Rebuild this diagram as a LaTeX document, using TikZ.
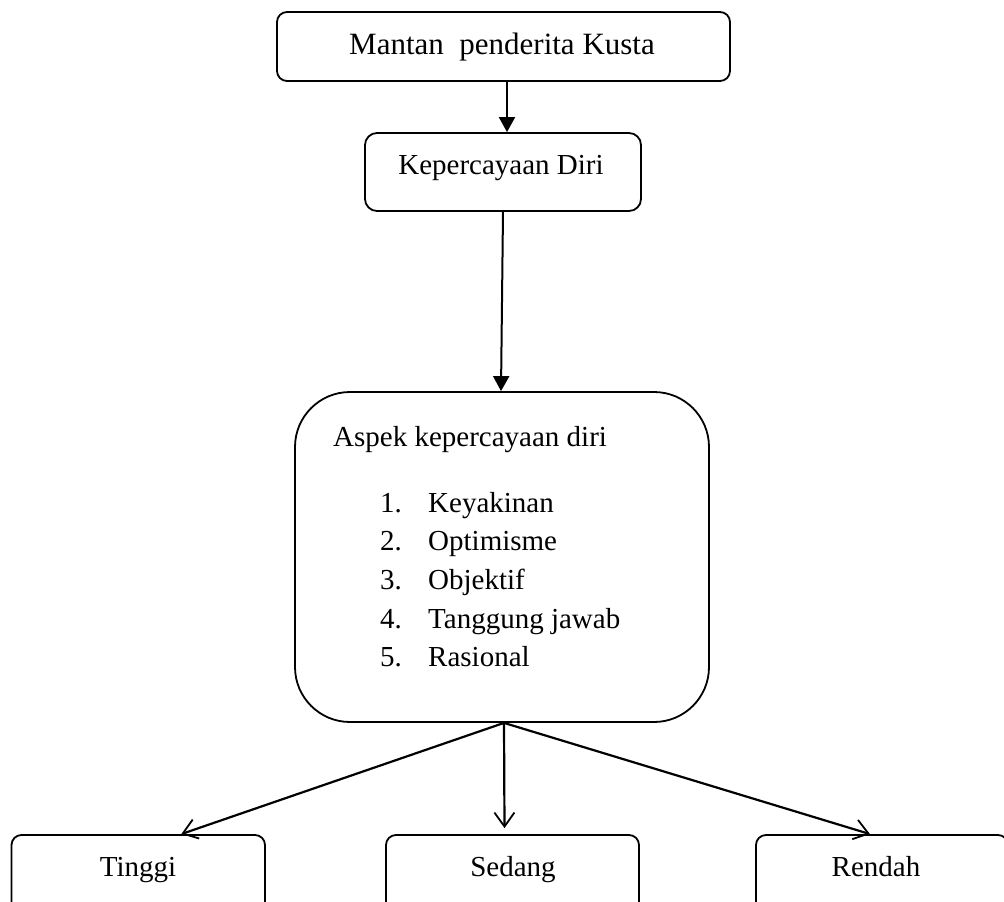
\documentclass[tikz,border=0pt]{standalone}
\usepackage{fontspec}
\setmainfont{Liberation Serif}
\usetikzlibrary{arrows.meta}
\tikzset{
  box/.style={draw, line width=1.8pt, rectangle, inner sep=0pt},
  txt/.style={anchor=base, inner sep=0pt, font=\fontsize{29}{34}\selectfont},
  ltxt/.style={anchor=base west, inner sep=0pt, font=\fontsize{29}{34}\selectfont},
  solidarrow/.style={line width=2pt, -{Triangle[length=15pt,width=16pt]}},
  openarrow/.style={line width=2.2pt, -{Straight Barb[length=14pt,width=20pt,line width=1.8pt]}}
}
\begin{document}
\begin{tikzpicture}[x=1pt,y=-1pt]
\useasboundingbox (0,0) rectangle (1004,902);
% boxes
\node[box, rounded corners=10pt, minimum width=453pt, minimum height=69pt] (m) at (503.5,46.5) {};
\node[box, rounded corners=12pt, minimum width=276pt, minimum height=78pt] (k) at (503,172) {};
\node[box, rounded corners=55pt, minimum width=414pt, minimum height=330pt] (a) at (502,557) {};
\node[box, rounded corners=10pt, minimum width=253.5pt, minimum height=77pt] (t) at (138.25,873.5) {};
\node[box, rounded corners=10pt, minimum width=253pt, minimum height=77pt] (s) at (512.5,873.5) {};
\node[box, rounded corners=10pt, minimum width=252pt, minimum height=77pt] (r) at (882,873.5) {};
% texts
\node[txt, font=\fontsize{31}{36}\selectfont] (mt) at (502,54) {Mantan\ \ penderita Kusta};
\node[txt] (kt) at (501,174) {Kepercayaan Diri};
\node[ltxt] (ah) at (333,446) {Aspek kepercayaan diri};
\node[ltxt] (a1) at (380,512) {\makebox[48pt][l]{1.}Keyakinan};
\node[ltxt] (a2) at (380,550.7) {\makebox[48pt][l]{2.}Optimisme};
\node[ltxt] (a3) at (380,589.4) {\makebox[48pt][l]{3.}Objektif};
\node[ltxt] (a4) at (380,628.1) {\makebox[48pt][l]{4.}Tanggung jawab};
\node[ltxt] (a5) at (380,666.8) {\makebox[48pt][l]{5.}Rasional};
\node[txt] (tt) at (138,876) {Tinggi};
\node[txt] (st) at (513,876) {Sedang};
\node[txt] (rt) at (876,876) {Rendah};
% connectors
\draw[solidarrow] ([xshift=3.5pt]m.south) -- ([xshift=4pt]k.north);
\draw[solidarrow] (k.south) -- ([xshift=-1pt]a.north);
\coordinate (src) at ([xshift=2pt]a.south);
\draw[openarrow] (src) -- ([xshift=43pt]t.north);
\draw[openarrow] (src) -- ([xshift=-8pt,yshift=6pt]s.north);
\draw[openarrow] (src) -- ([xshift=-12pt]r.north);
\end{tikzpicture}
\end{document}
